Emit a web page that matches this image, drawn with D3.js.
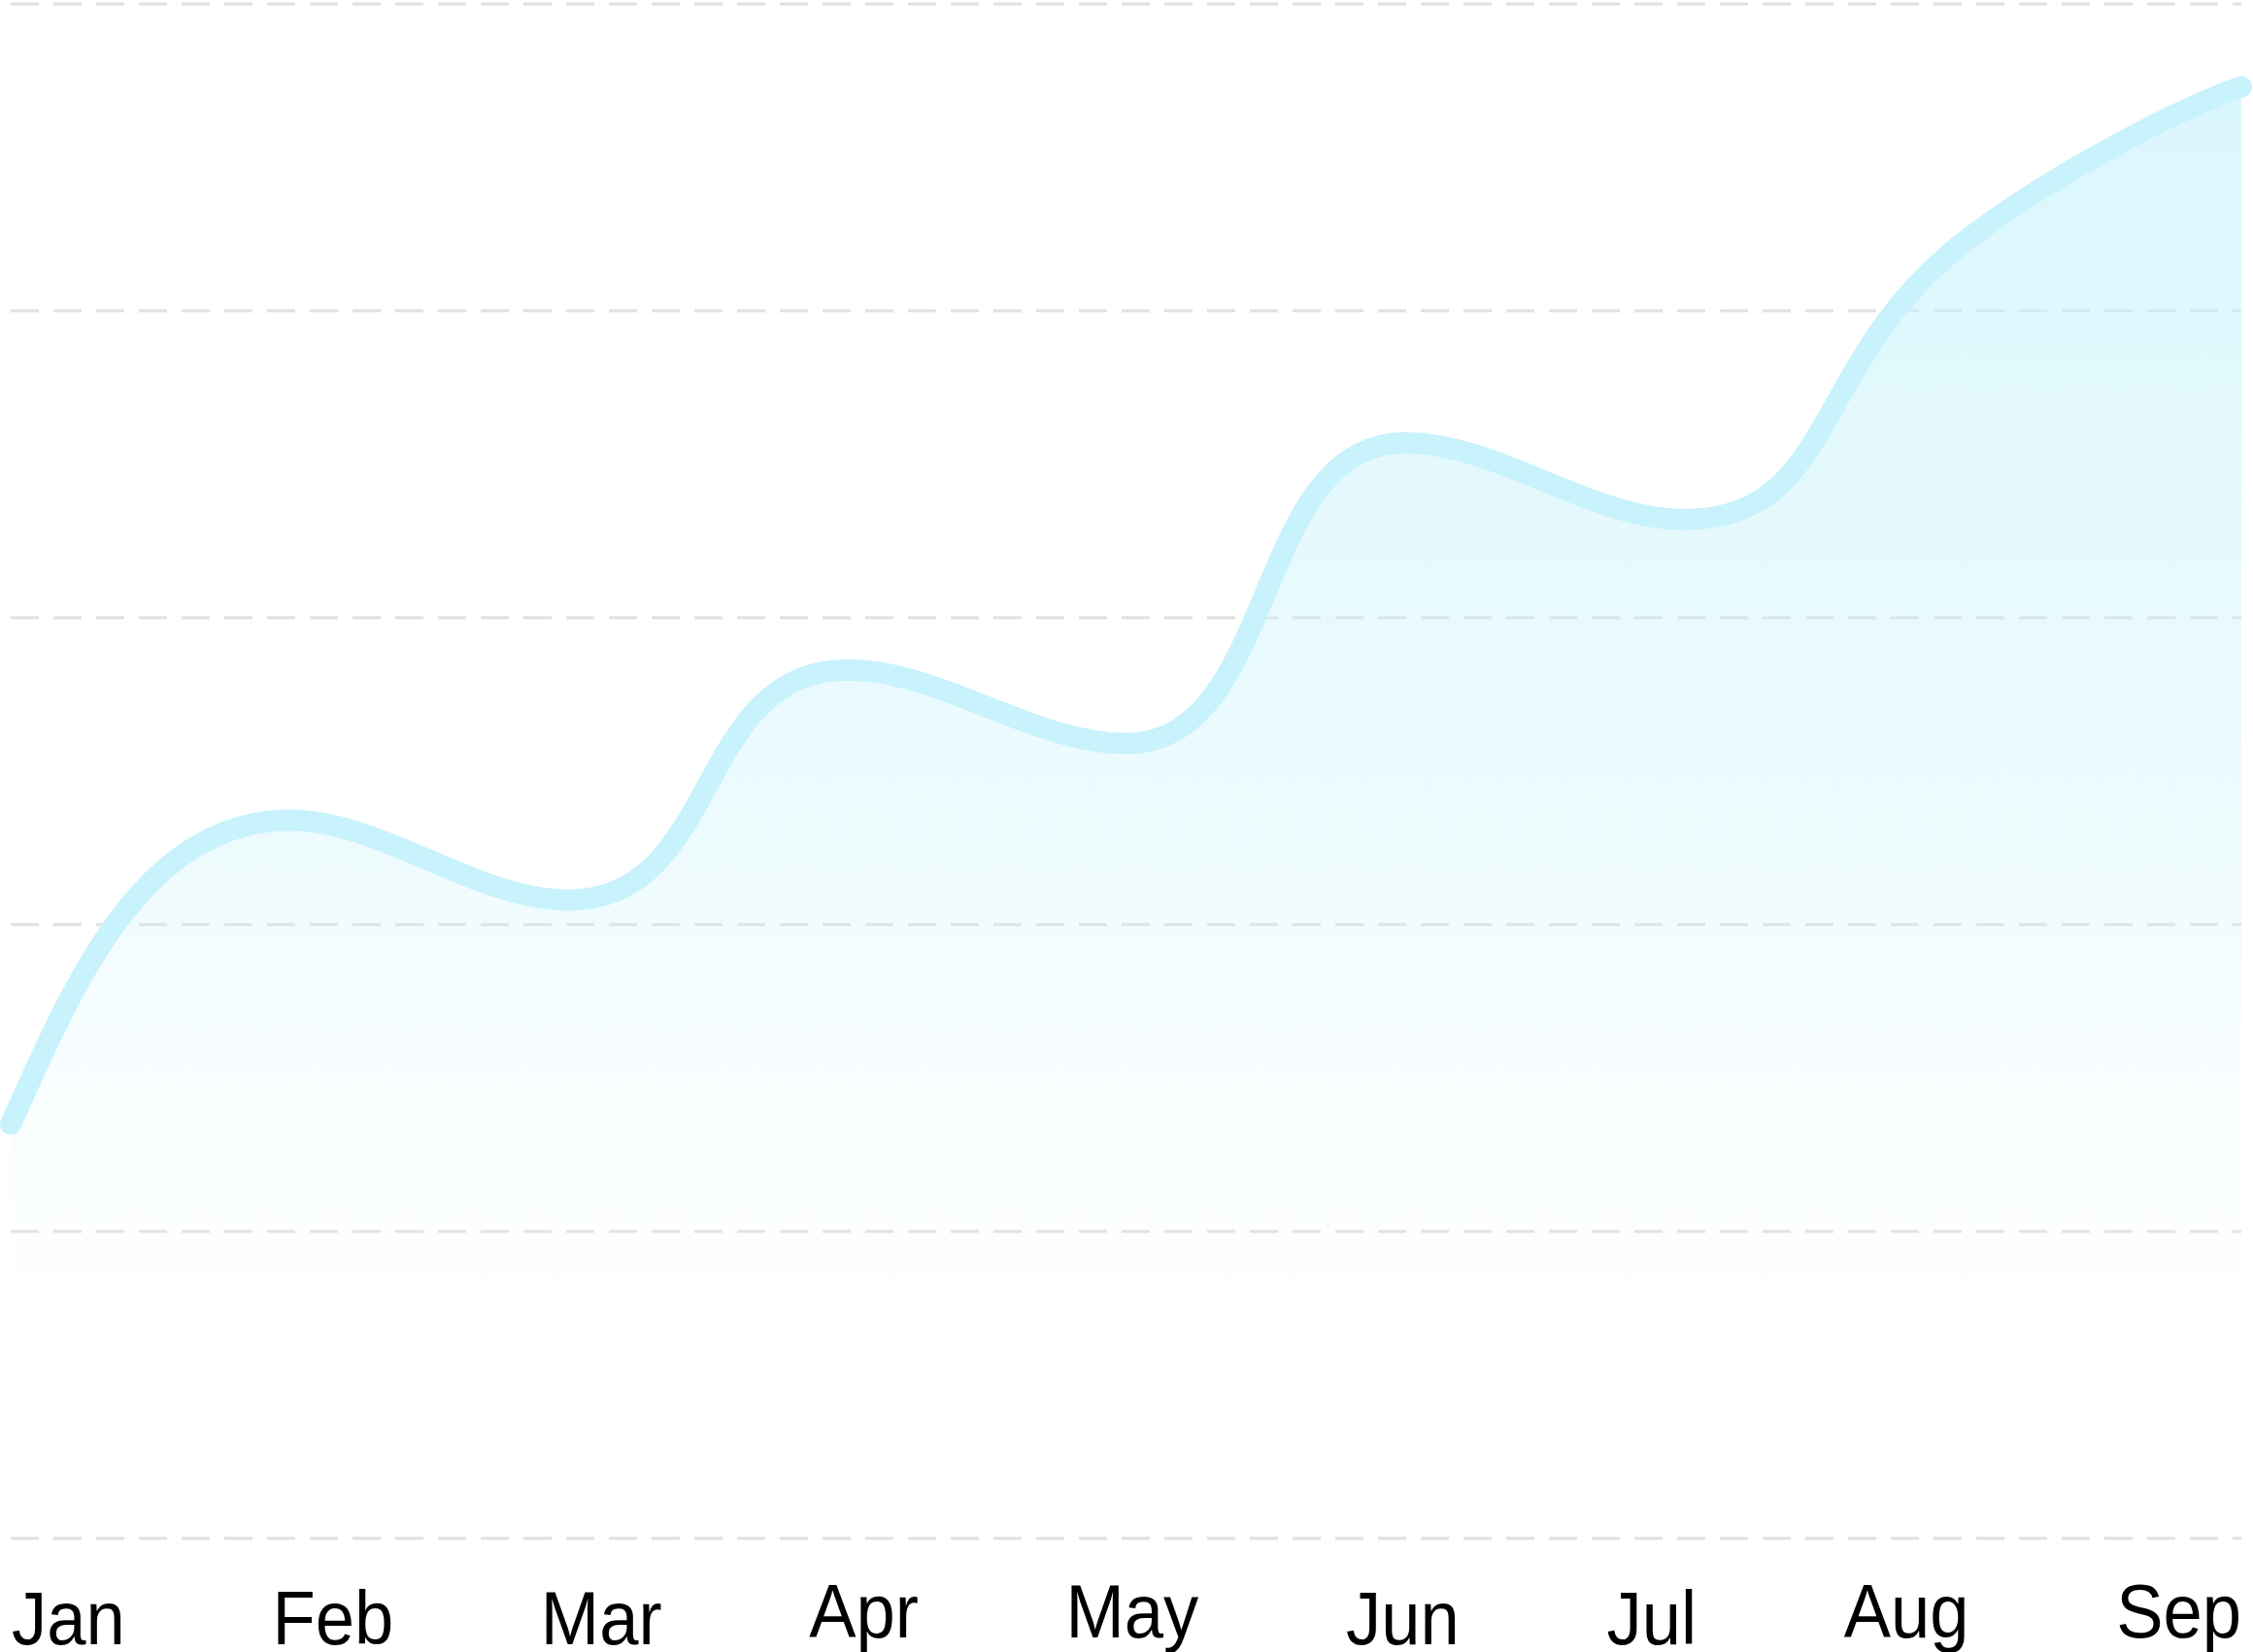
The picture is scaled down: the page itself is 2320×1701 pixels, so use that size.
<!DOCTYPE html>
<html>
<head>
<meta charset="utf-8">
<script src="https://cdn.jsdelivr.net/npm/d3@7"></script>
<style>
  html, body { margin: 0; padding: 0; background: #ffffff; }
  svg { display: block; }
</style>
</head>
<body>
<script>
const months = ["Jan", "Feb", "Mar", "Apr", "May", "Jun", "Jul", "Aug", "Sep"];
const values = [135, 234, 208, 283, 259, 357, 332, 422, 473];
const gridTicks = [0, 100, 200, 300, 400, 500];

// Smooth curve: cubic segments with monotone tangents; rising segments get
// longer handles (except the closing segment, which eases into the last point)
function CurveSoft(context) { this._context = context; }
CurveSoft.prototype = {
  areaStart() { this._line = 0; },
  areaEnd() { this._line = NaN; },
  lineStart() { this._xs = []; this._ys = []; },
  point(px, py) { this._xs.push(+px); this._ys.push(+py); },
  lineEnd() {
    const xs = this._xs, ys = this._ys, n = xs.length, c = this._context;
    if (n) {
      if (this._line) c.lineTo(xs[0], ys[0]); else c.moveTo(xs[0], ys[0]);
      if (n > 1) {
        const h = [], s = [];
        for (let i = 0; i < n - 1; i++) {
          h.push(xs[i + 1] - xs[i]);
          s.push(h[i] ? (ys[i + 1] - ys[i]) / h[i] : 0);
        }
        const m = new Array(n).fill(0);
        for (let i = 1; i < n - 1; i++) {
          const s0 = s[i - 1], s1 = s[i], h0 = h[i - 1], h1 = h[i];
          const p = (s0 * h1 + s1 * h0) / (h0 + h1);
          m[i] = (Math.sign(s0) + Math.sign(s1)) * Math.min(Math.abs(s0), Math.abs(s1), 0.5 * Math.abs(p)) || 0;
        }
        if (n > 2) {
          m[0] = 2 * s[0] - m[1];
          m[n - 1] = 2 * s[n - 2] - m[n - 2];
        } else {
          m[0] = m[1] = s[0];
        }
        const kEnd = 0.2, kLong = 0.55, kStd = 1 / 3;
        for (let i = 0; i < n - 1; i++) {
          const rising = s[i] < 0;
          const lastSeg = i === n - 2;
          const k0 = i === 0 ? kEnd : (rising && !lastSeg ? kLong : kStd);
          const k1 = lastSeg ? kEnd : (rising ? kLong : kStd);
          const d0 = k0 * h[i], d1 = k1 * h[i];
          c.bezierCurveTo(
            xs[i] + d0, ys[i] + d0 * m[i],
            xs[i + 1] - d1, ys[i + 1] - d1 * m[i + 1],
            xs[i + 1], ys[i + 1]
          );
        }
      }
    }
    if (this._line || (this._line !== 0 && n === 1)) c.closePath();
    this._line = 1 - this._line;
  }
};
const curveSoft = context => new CurveSoft(context);

(function () {
const W = 2320, H = 1701;
const mLeft = 11, mRight = 2308, mTop = 4, mBottom = 1584;

const svg = d3.select("body").append("svg").attr("width", W).attr("height", H);

const x = d3.scalePoint().domain(months).range([mLeft, mRight]);
const y = d3.scaleLinear().domain([0, 500]).range([mBottom, mTop]);

const data = months.map((m, i) => ({ m, v: values[i] }));

const defs = svg.append("defs");
const grad = defs.append("linearGradient")
  .attr("id", "areaGrad")
  .attr("gradientUnits", "userSpaceOnUse")
  .attr("x1", 0).attr("x2", 0)
  .attr("y1", y(d3.max(values))).attr("y2", y(0) - 60);
grad.append("stop").attr("offset", 0).attr("stop-color", "#c6f2fb").attr("stop-opacity", 0.66);
grad.append("stop").attr("offset", 0.55).attr("stop-color", "#c6f2fb").attr("stop-opacity", 0.3);
grad.append("stop").attr("offset", 1).attr("stop-color", "#ffffff").attr("stop-opacity", 0);

// grid
svg.append("g").selectAll("line").data(gridTicks).join("line")
  .attr("x1", mLeft).attr("x2", mRight)
  .attr("y1", d => y(d)).attr("y2", d => y(d))
  .attr("stroke", "#e0e0e0")
  .attr("stroke-width", 3)
  .attr("stroke-dasharray", "29,15");

// area
const area = d3.area()
  .x(d => x(d.m))
  .y0(y(0))
  .y1(d => y(d.v))
  .curve(curveSoft);
svg.append("path").datum(data)
  .attr("d", area)
  .attr("fill", "url(#areaGrad)");

// line
const line = d3.line()
  .x(d => x(d.m))
  .y(d => y(d.v))
  .curve(curveSoft);
svg.append("path").datum(data)
  .attr("d", line)
  .attr("fill", "none")
  .attr("stroke", "#c8f2fc")
  .attr("stroke-width", 22)
  .attr("stroke-linecap", "round")
  .attr("stroke-linejoin", "round");

// labels, spread with equal gaps between first-left and last-right
const sx = 0.94;
const labelG = svg.append("g");
const labels = labelG.selectAll("g").data(months).join("g");
const texts = labels.append("text")
  .text(d => d)
  .attr("font-family", "'Liberation Sans', Arial, Helvetica, sans-serif")
  .attr("font-size", 77)
  .attr("fill", "#000000");
const widths = [];
texts.each(function () { widths.push(this.getComputedTextLength() * sx); });
const startX = 12, endX = mRight;
const gap = (endX - startX - d3.sum(widths)) / (months.length - 1);
let cx = startX;
labels.attr("transform", (d, i) => {
  const px = cx;
  cx += widths[i] + gap;
  const base = /[gjpqy]/.test(d) ? 1686 : 1693;
  return `translate(${px},${base}) scale(${sx},1)`;
});
})();
</script>
</body>
</html>
